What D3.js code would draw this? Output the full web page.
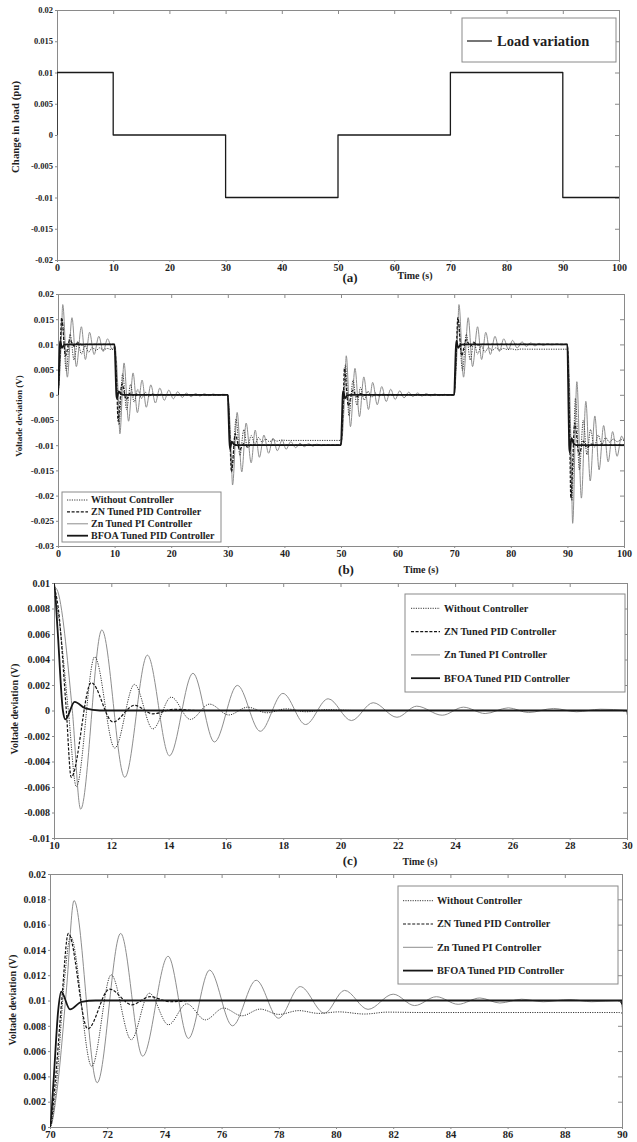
<!DOCTYPE html>
<html>
<head>
<meta charset="utf-8">
<script src="https://cdn.jsdelivr.net/npm/d3@7"></script>
<style>
body { margin: 0; background: #fff; }
svg { display: block; }
</style>
</head>
<body>
<div id="chart"></div>
<script>

// (a) load step pattern
var loadTimes  = [0, 0, 10, 30, 50, 70, 90, 100];
var loadValues = [0, 0.01, 0, -0.01, 0, 0.01, -0.01, -0.01];

// voltage deviation [time, value] (peaks, troughs and knees)
var withoutCtrl = [
	[0,0],[0.25,0.004],[0.5,0.0115],[0.72,0.01505],[1.46,0.00479],[2.14,0.01203],[2.84,0.0069],[3.47,0.01058],[4.14,0.00808],[4.78,0.00974],[5.43,0.00847],[6.07,0.0094],[6.71,0.00879],[7.35,0.00932],[8.0,0.0089],[8.7,0.0092],[9.4,0.00898],[9.9,0.00905],
	[10,0.009],[10.15,0.0075],[10.5,0],[10.78,-0.00597],[11.42,0.00421],[12.12,-0.00295],[12.81,0.00205],[13.45,-0.00145],[14.09,0.00105],[14.76,-0.0007],[15.43,0.0005],[16.1,-0.00035],[16.76,0.00026],[17.43,-0.00018],[18.1,0.00013],[18.8,-0.0001],[19.5,0.00007],[20.5,0],[29.9,0],
	[30,0],[30.25,-0.004],[30.5,-0.0115],[30.72,-0.01505],[31.46,-0.00479],[32.14,-0.01203],[32.84,-0.0069],[33.47,-0.01058],[34.14,-0.00808],[34.78,-0.00974],[35.43,-0.00847],[36.07,-0.0094],[36.71,-0.00879],[37.35,-0.00932],[38.0,-0.0089],[38.7,-0.0092],[39.4,-0.00898],[40.5,-0.00905],[49.9,-0.00905],
	[50,-0.009],[50.15,-0.0075],[50.5,0],[50.78,0.00597],[51.42,-0.00421],[52.12,0.00295],[52.81,-0.00205],[53.45,0.00145],[54.09,-0.00105],[54.76,0.0007],[55.43,-0.0005],[56.1,0.00035],[56.76,-0.00026],[57.43,0.00018],[58.1,-0.00013],[58.8,0.0001],[59.5,-0.00007],[60.5,0],[69.9,0],
	[70,0],[70.25,0.004],[70.5,0.0115],[70.72,0.01505],[71.46,0.00479],[72.14,0.01203],[72.84,0.0069],[73.47,0.01058],[74.14,0.00808],[74.78,0.00974],[75.43,0.00847],[76.07,0.0094],[76.71,0.00879],[77.35,0.00932],[78.0,0.0089],[78.7,0.0092],[79.4,0.00898],[80.1,0.0091],[81.0,0.00893],[81.8,0.00908],[83,0.00905],[89.9,0.00905],
	[90,0.009],[90.15,0.006],[90.5,-0.009],[90.78,-0.021],[91.42,-0.0007],[92.12,-0.0149],[92.81,-0.005],[93.45,-0.0119],[94.09,-0.0069],[94.76,-0.0104],[95.43,-0.008],[96.1,-0.0098],[96.76,-0.0085],[97.43,-0.0094],[98.1,-0.0088],[98.8,-0.0093],[99.5,-0.0089],[100,-0.00905]
];

var znPid = [
	[0,0],[0.18,0.0035],[0.41,0.01],[0.64,0.0153],[1.32,0.00776],[2.08,0.0109],[2.86,0.00966],[3.5,0.0103],[4.2,0.0099],[5,0.01],[9.9,0.01],
	[10,0.0097],[10.15,0.008],[10.43,0],[10.6,-0.00524],[11.3,0.00218],[12.06,-0.0009],[12.81,0.0004],[13.45,-0.00026],[14.2,0.0001],[15,0],[29.9,0],
	[30,0],[30.18,-0.0035],[30.41,-0.01],[30.64,-0.0153],[31.32,-0.00776],[32.08,-0.0109],[32.86,-0.00966],[33.5,-0.0103],[34.2,-0.0099],[35,-0.01],[49.9,-0.01],
	[50,-0.0097],[50.15,-0.008],[50.43,0],[50.6,0.00524],[51.3,-0.00218],[52.06,0.0009],[52.81,-0.0004],[53.45,0.00026],[54.2,-0.0001],[55,0],[69.9,0],
	[70,0],[70.18,0.0035],[70.41,0.01],[70.64,0.0153],[71.32,0.00776],[72.08,0.0109],[72.86,0.00966],[73.5,0.0103],[74.2,0.0099],[75,0.01],[89.9,0.01],
	[90,0.0097],[90.15,0.006],[90.43,-0.01],[90.6,-0.0205],[91.3,-0.0056],[92.06,-0.0118],[92.81,-0.0092],[93.45,-0.0105],[94.2,-0.0098],[95,-0.01],[100,-0.01]
];

var znPi = [
	[0,0],[0.25,0.003],[0.58,0.011],[0.84,0.0179],[1.65,0.0035],[2.47,0.0153],[3.24,0.0056],[4.13,0.0135],[4.84,0.007],[5.58,0.0124],[6.38,0.008],[7.21,0.0116],[7.99,0.0086],[8.75,0.0111],[9.6,0.009],
	[10,0.0097],[10.1,0.0095],[10.64,0],[10.93,-0.00774],[11.67,0.00632],[12.47,-0.00524],[13.26,0.00434],[14.03,-0.00355],[14.85,0.00292],[15.6,-0.00247],[16.4,0.00197],[17.2,-0.00163],[17.99,0.00134],[18.78,-0.0011],[19.57,0.00092],[20.38,-0.00079],[21.14,0.00061],[21.97,-0.00053],[22.66,0.00034],[23.55,-0.00037],[24.29,0.00026],[25.05,-0.00024],[25.86,0.00021],[26.56,-0.00016],[27.44,0.00016],[28.24,-0.0001],[29.07,0.0001],
	[30,0],[30.25,-0.003],[30.58,-0.011],[30.84,-0.0179],[31.65,-0.0035],[32.47,-0.0153],[33.24,-0.0056],[34.13,-0.0135],[34.84,-0.007],[35.58,-0.0124],[36.38,-0.008],[37.21,-0.0116],[37.99,-0.0086],[38.75,-0.0111],[39.6,-0.009],[40.3,-0.0108],[41.12,-0.0093],[42,-0.0105],[42.75,-0.0096],[43.51,-0.0103],[44.27,-0.0097],[45.03,-0.0102],[45.73,-0.0098],[46.49,-0.0101],[47.5,-0.01],[49.9,-0.01],
	[50,-0.0097],[50.1,-0.0095],[50.64,0],[50.93,0.00774],[51.67,-0.00632],[52.47,0.00524],[53.26,-0.00434],[54.03,0.00355],[54.85,-0.00292],[55.6,0.00247],[56.4,-0.00197],[57.2,0.00163],[57.99,-0.00134],[58.78,0.0011],[59.57,-0.00092],[60.38,0.00079],[61.14,-0.00061],[61.97,0.00053],[62.66,-0.00034],[63.55,0.00037],[64.29,-0.00026],[65.05,0.00024],[65.86,-0.00021],[66.56,0.00016],[67.44,-0.00016],[68.24,0.0001],[69.07,-0.0001],
	[70,0],[70.25,0.003],[70.58,0.011],[70.84,0.0179],[71.65,0.0035],[72.47,0.0153],[73.24,0.0056],[74.13,0.0135],[74.84,0.007],[75.58,0.0124],[76.38,0.008],[77.21,0.0116],[77.99,0.0086],[78.75,0.0111],[79.6,0.009],[80.3,0.0108],[81.12,0.0093],[82,0.0105],[82.75,0.0096],[83.51,0.0103],[84.27,0.0097],[85.03,0.0102],[85.73,0.0098],[86.49,0.0101],[87.25,0.0099],[88.18,0.01008],[88.94,0.0099],[89.9,0.01],
	[90,0.0097],[90.1,0.0092],[90.64,-0.01],[90.93,-0.0255],[91.67,0.0026],[92.47,-0.0205],[93.26,-0.0013],[94.03,-0.0171],[94.85,-0.0042],[95.6,-0.0149],[96.4,-0.0061],[97.2,-0.0133],[97.99,-0.0073],[98.78,-0.0122],[99.57,-0.0082],[100,-0.0092]
];

var bfoaPid = [
	[0,0],[0.12,0.0035],[0.29,0.0093],[0.39,0.0107],[0.7,0.0093],[1.1,0.0099],[1.6,0.01],[10,0.01],
	[10.12,0.0065],[10.31,0],[10.4,-0.0007],[10.72,0.00068],[11.1,0.00016],[11.6,0],[30,0],
	[30.12,-0.0035],[30.29,-0.0093],[30.39,-0.0107],[30.7,-0.0093],[31.1,-0.0099],[31.6,-0.01],[50,-0.01],
	[50.12,-0.0065],[50.31,0],[50.4,0.0007],[50.72,-0.00068],[51.1,-0.00016],[51.6,0],[70,0],
	[70.12,0.0035],[70.29,0.0093],[70.39,0.0107],[70.7,0.0093],[71.1,0.0099],[71.6,0.01],[90,0.01],
	[90.12,0.003],[90.31,-0.01],[90.4,-0.0114],[90.72,-0.0086],[91.1,-0.0097],[91.6,-0.01],[100,-0.01]
];

var seriesNames = ['Without Controller', 'ZN Tuned PID Controller', 'Zn Tuned PI Controller', 'BFOA Tuned PID Controller'];

// tick values
var xTicksFull = [0, 10, 20, 30, 40, 50, 60, 70, 80, 90, 100];
var yTicksA = [-0.02, -0.015, -0.01, -0.005, 0, 0.005, 0.01, 0.015, 0.02];
var yTicksB = [-0.03, -0.025, -0.02, -0.015, -0.01, -0.005, 0, 0.005, 0.01, 0.015, 0.02];
var xTicksC = [10, 12, 14, 16, 18, 20, 22, 24, 26, 28, 30];
var yTicksC = [-0.01, -0.008, -0.006, -0.004, -0.002, 0, 0.002, 0.004, 0.006, 0.008, 0.01];
var xTicksD = [70, 72, 74, 76, 78, 80, 82, 84, 86, 88, 90];
var yTicksD = [0, 0.002, 0.004, 0.006, 0.008, 0.01, 0.012, 0.014, 0.016, 0.018, 0.02];


var serif = '"Liberation Serif", "Times New Roman", serif';
var frameColor = '#8a8a8a';
var textColor = '#1e1e1e';

// styles in legend order
var lineStyles = [
	{ stroke : '#3a3a3a', width : 1,   dash : '1.2,1.2' },
	{ stroke : '#151515', width : 1.2, dash : '3,1.6' },
	{ stroke : '#8e8e8e', width : 1,   dash : null },
	{ stroke : '#161616', width : 1.8, dash : null }
];
var responses = [withoutCtrl, znPid, znPi, bfoaPid];
var drawOrder = [2, 0, 1, 3];

var svg = d3.select('#chart')
		.append('svg')
		.attr('width', 637)
		.attr('height', 1142);

function fmt(v) {
	return String(+(+v).toFixed(4));
}

function styleAxis(g, fontSize) {
	g.attr('font-family', serif);
	g.select('.domain').attr('stroke', frameColor).attr('stroke-width', 1);
	g.selectAll('.tick line').attr('stroke', frameColor);
	g.selectAll('.tick text')
		.attr('font-size', fontSize + 'px')
		.attr('font-weight', 'bold')
		.attr('fill', textColor);
}

function drawPanel(p) {

	var x = d3.scaleLinear().domain(p.xDomain).range([p.left, p.right]);
	var y = d3.scaleLinear().domain(p.yDomain).range([p.bottom, p.top]);

	var panel = svg.append('g').attr('class', 'panel-' + p.name);

	panel.append('clipPath')
		.attr('id', 'clip-' + p.name)
		.append('rect')
		.attr('x', p.left)
		.attr('y', p.top)
		.attr('width', p.right - p.left)
		.attr('height', p.bottom - p.top);

	// frame + ticks
	var bottomAxis = panel.append('g')
		.attr('transform', 'translate(0,' + p.bottom + ')')
		.call(d3.axisBottom(x).tickValues(p.xTicks).tickSizeInner(2).tickSizeOuter(0).tickPadding(p.xPad).tickFormat(fmt));
	styleAxis(bottomAxis, p.xFont);

	var leftAxis = panel.append('g')
		.attr('transform', 'translate(' + p.left + ',0)')
		.call(d3.axisLeft(y).tickValues(p.yTicks).tickSizeInner(2).tickSizeOuter(0).tickPadding(2).tickFormat(fmt));
	styleAxis(leftAxis, p.yFont);

	var topAxis = panel.append('g')
		.attr('transform', 'translate(0,' + p.top + ')')
		.call(d3.axisTop(x).tickValues(p.xTicks).tickSizeInner(-4).tickSizeOuter(0).tickFormat(''));
	styleAxis(topAxis, p.xFont);

	var rightAxis = panel.append('g')
		.attr('transform', 'translate(' + p.right + ',0)')
		.call(d3.axisRight(y).tickValues(p.yTicks).tickSizeInner(-4).tickSizeOuter(0).tickFormat(''));
	styleAxis(rightAxis, p.yFont);

	// data
	var plot = panel.append('g').attr('clip-path', 'url(#clip-' + p.name + ')');

	p.lines.forEach(function (l) {
		var line = d3.line()
			.x(function (d) { return x(d[0]); })
			.y(function (d) { return y(d[1]); })
			.curve(l.curve);

		plot.append('path')
			.datum(l.data)
			.attr('d', line)
			.attr('fill', 'none')
			.attr('stroke', l.style.stroke)
			.attr('stroke-width', l.style.width)
			.attr('stroke-dasharray', l.style.dash)
			.attr('stroke-linejoin', 'round');
	});

	// legend
	var lg = p.legend;
	var legend = panel.append('g');

	legend.append('rect')
		.attr('x', lg.x0)
		.attr('y', lg.y0)
		.attr('width', lg.x1 - lg.x0)
		.attr('height', lg.y1 - lg.y0)
		.attr('fill', '#fff')
		.attr('stroke', frameColor)
		.attr('stroke-width', 1);

	lg.labels.forEach(function (label, i) {
		var ry = lg.rowY + i * lg.rowStep;
		var st = lg.styles[i];

		legend.append('line')
			.attr('x1', lg.sx0)
			.attr('y1', ry)
			.attr('x2', lg.sx1)
			.attr('y2', ry)
			.attr('stroke', st.stroke)
			.attr('stroke-width', st.width)
			.attr('stroke-dasharray', st.dash);

		legend.append('text')
			.attr('x', lg.tx)
			.attr('y', ry + lg.font * 0.33)
			.attr('font-family', serif)
			.attr('font-size', lg.font + 'px')
			.attr('font-weight', 'bold')
			.attr('fill', textColor)
			.text(label);
	});

	// y title
	var yt = panel.append('text')
		.attr('transform', 'translate(' + p.yTitle.x + ',' + p.yTitle.cy + ') rotate(-90)')
		.attr('text-anchor', 'middle')
		.attr('font-family', serif)
		.attr('font-size', p.yTitle.font + 'px')
		.attr('font-weight', 'bold')
		.attr('fill', textColor)
		.text(p.yTitle.text);
	if (p.yTitle.len) {
		yt.attr('textLength', p.yTitle.len).attr('lengthAdjust', 'spacingAndGlyphs');
	}

	// caption and x title
	if (p.caption) {
		panel.append('text')
			.attr('x', p.caption.x)
			.attr('y', p.caption.y)
			.attr('text-anchor', 'middle')
			.attr('font-family', serif)
			.attr('font-size', '13px')
			.attr('font-weight', 'bold')
			.attr('fill', textColor)
			.text(p.caption.text);

		panel.append('text')
			.attr('x', p.caption.tx)
			.attr('y', p.caption.ty)
			.attr('text-anchor', 'middle')
			.attr('font-family', serif)
			.attr('font-size', '10px')
			.attr('font-weight', 'bold')
			.attr('fill', textColor)
			.text('Time (s)');
	}
}

var loadPoints = loadTimes.map(function (t, i) { return [t, loadValues[i]]; });

var controllerLines = drawOrder.map(function (i) {
	return { data : responses[i], style : lineStyles[i], curve : d3.curveMonotoneX };
});

drawPanel({
	name : 'a',
	left : 57, right : 619, top : 10, bottom : 260,
	xDomain : [0, 100], yDomain : [-0.02, 0.02],
	xTicks : xTicksFull, yTicks : yTicksA,
	xFont : 10, yFont : 8.5, xPad : 2,
	lines : [{ data : loadPoints, style : { stroke : '#1a1a1a', width : 1.3, dash : null }, curve : d3.curveStepAfter }],
	legend : {
		x0 : 462, y0 : 18, x1 : 616, y1 : 62,
		sx0 : 467, sx1 : 492, tx : 497, rowY : 41, rowStep : 0, font : 14.5,
		labels : ['Load variation'],
		styles : [{ stroke : '#1a1a1a', width : 1.2, dash : null }]
	},
	yTitle : { text : 'Change in load (pu)', x : 19, cy : 127, len : 92, font : 9.5 },
	caption : { text : '(a)', x : 350, y : 282, tx : 415, ty : 279 }
});

drawPanel({
	name : 'b',
	left : 58, right : 624, top : 294, bottom : 546,
	xDomain : [0, 100], yDomain : [-0.03, 0.02],
	xTicks : xTicksFull, yTicks : yTicksB,
	xFont : 10, yFont : 9, xPad : 2,
	lines : controllerLines,
	legend : {
		x0 : 62, y0 : 492, x1 : 221, y1 : 542,
		sx0 : 67, sx1 : 88, tx : 91, rowY : 500, rowStep : 11.9, font : 10,
		labels : seriesNames, styles : lineStyles
	},
	yTitle : { text : 'Voltade deviation (V)', x : 22, cy : 416, len : null, font : 9 },
	caption : { text : '(b)', x : 346, y : 574, tx : 421, ty : 572.5 }
});

drawPanel({
	name : 'c',
	left : 54, right : 627, top : 583, bottom : 838,
	xDomain : [10, 30], yDomain : [-0.01, 0.01],
	xTicks : xTicksC, yTicks : yTicksC,
	xFont : 10.5, yFont : 10, xPad : 2,
	lines : controllerLines,
	legend : {
		x0 : 405, y0 : 594, x1 : 625, y1 : 692,
		sx0 : 411, sx1 : 440, tx : 444, rowY : 608.3, rowStep : 23.3, font : 10.2,
		labels : seriesNames, styles : lineStyles
	},
	yTitle : { text : 'Voltade deviation (V)', x : 18, cy : 709, len : null, font : 10 },
	caption : { text : '(c)', x : 350, y : 865, tx : 420, ty : 864.5 }
});

drawPanel({
	name : 'd',
	left : 50, right : 622, top : 874, bottom : 1127,
	xDomain : [70, 90], yDomain : [0, 0.02],
	xTicks : xTicksD, yTicks : yTicksD,
	xFont : 10.5, yFont : 10, xPad : 2,
	lines : controllerLines,
	legend : {
		x0 : 398, y0 : 886, x1 : 618, y1 : 984,
		sx0 : 403, sx1 : 433, tx : 437, rowY : 900.7, rowStep : 23.3, font : 10.3,
		labels : seriesNames, styles : lineStyles
	},
	yTitle : { text : 'Voltade deviation (V)', x : 16, cy : 1000, len : null, font : 10 },
	caption : null
});

</script>
</body>
</html>
